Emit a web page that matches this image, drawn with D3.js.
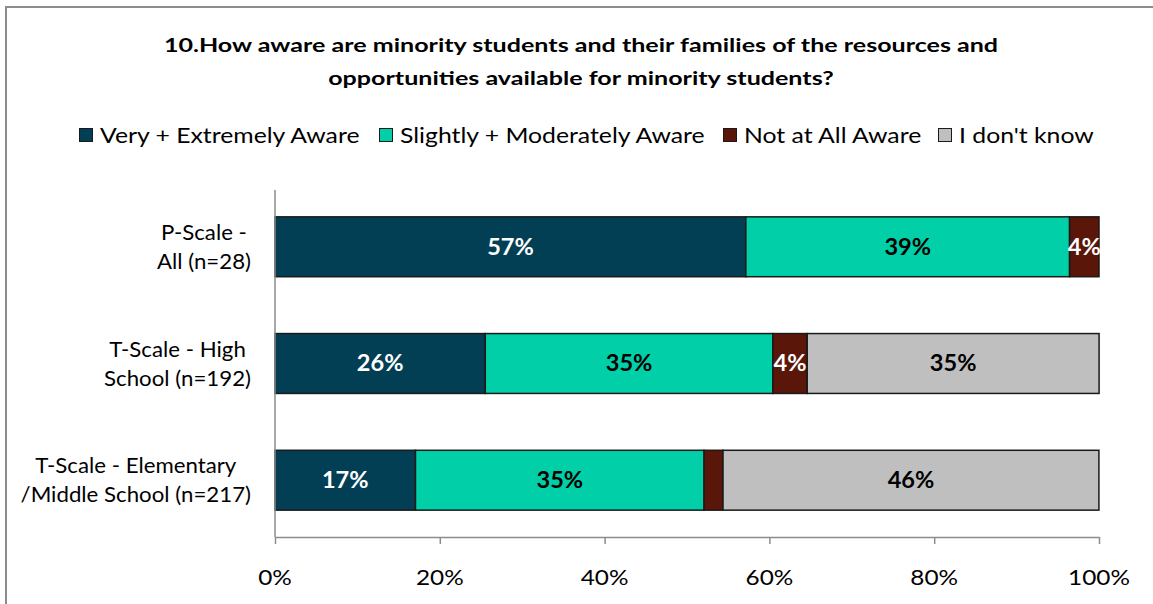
<!DOCTYPE html>
<html>
<head>
<meta charset="utf-8">
<script src="https://cdn.jsdelivr.net/npm/d3@7"></script>
<style>
  html, body { margin: 0; padding: 0; background: #fff; }
  svg { display: block; font-family: Lato, "Open Sans", sans-serif; }
</style>
</head>
<body>
<svg id="chart" width="1153" height="604"></svg>
<script>
// Survey responses, share of respondents per group (percent)
const categories = [
  ["P-Scale -", "All (n=28)"],
  ["T-Scale - High", "School (n=192)"],
  ["T-Scale - Elementary", "/Middle School (n=217)"]
];
const seriesNames = ["Very + Extremely Aware", "Slightly + Moderately Aware", "Not at All Aware", "I don't know"];
const veryExtremely = [57.14, 25.52, 17.05];
const slightlyModerately = [39.29, 34.90, 35.02];
const notAtAll = [3.57, 4.17, 2.30];
const dontKnow = [0, 35.42, 45.62];
const labelsShown = [[true, true, true, false], [true, true, true, true], [true, true, false, true]];
const tickValues = [0, 20, 40, 60, 80, 100];
const colors = ["#023F55", "#00CFA7", "#5A1709", "#BFBFBF"];
const labelColors = ["#ffffff", "#000000", "#ffffff", "#000000"];

const series = [veryExtremely, slightlyModerately, notAtAll, dontKnow];
const rows = categories.map((c, i) => {
  const o = { idx: i };
  seriesNames.forEach((s, j) => o[s] = series[j][i]);
  return o;
});
const stacked = d3.stack().keys(seriesNames)(rows);

const svg = d3.select("#chart");

// text placed at (x, y) and widened horizontally by sx
function wideText(parent, x, y, sx) {
  return parent.append("g").attr("transform", `translate(${x},${y}) scale(${sx},1)`).append("text");
}

// chart frame
svg.append("path")
  .attr("d", "M6,604 V7 H1153")
  .attr("fill", "none").attr("stroke", "#8c8c8c").attr("stroke-width", 2);

// title
const titleLines = [
  "10.How aware are minority students and their families of the resources and",
  "opportunities available for minority students?"
];
titleLines.forEach((ln, k) => {
  wideText(svg, 581, 52 + k * 33, 1.32)
    .attr("text-anchor", "middle")
    .attr("font-weight", "bold").attr("font-size", 19).attr("fill", "#000")
    .text(ln);
});

const x = d3.scaleLinear().domain([0, 100]).range([275, 1099]);
const y = d3.scaleBand().domain(d3.range(categories.length)).range([190, 537])
  .paddingInner(0.487).paddingOuter(0.23);

// legend
const legendX = [79, 379, 723, 938];
seriesNames.forEach((s, j) => {
  svg.append("rect").attr("x", legendX[j] + 0.5).attr("y", 128.5).attr("width", 13).attr("height", 13)
    .attr("fill", colors[j]).attr("stroke", "#1a1a1a").attr("stroke-width", 1);
  wideText(svg, legendX[j] + 21, 143, 1.18)
    .attr("font-size", 21).attr("fill", "#000").text(s);
});

// bars
const layers = svg.append("g").selectAll("g").data(stacked).join("g")
  .attr("fill", (d, j) => colors[j]);
layers.selectAll("rect").data(d => d).join("rect")
  .attr("x", d => x(d[0]))
  .attr("y", (d, i) => y(i))
  .attr("width", d => x(d[1]) - x(d[0]))
  .attr("height", y.bandwidth())
  .attr("stroke", "#1a1a1a").attr("stroke-width", 1.5)
  .style("display", d => (d[1] - d[0]) > 0 ? null : "none");

// data labels
stacked.forEach((layer, j) => {
  layer.forEach((d, i) => {
    if (!labelsShown[i][j]) return;
    wideText(svg, (x(d[0]) + x(d[1])) / 2, y(i) + y.bandwidth() / 2, 1.07)
      .attr("dy", "0.36em")
      .attr("text-anchor", "middle")
      .attr("font-weight", "bold").attr("font-size", 22)
      .attr("fill", labelColors[j])
      .text(Math.round(d[1] - d[0]) + "%");
  });
});

// category axis labels (two-line, centred block, right edge aligned)
const catSx = 1.06;
categories.forEach((lines, i) => {
  const cy = y(i) + y.bandwidth() / 2;
  const g = svg.append("g");
  const texts = lines.map((ln, k) =>
    wideText(g, 0, cy - 7 + k * 29, catSx)
      .attr("font-size", 21).attr("fill", "#000").attr("text-anchor", "middle").text(ln));
  const w = d3.max(texts, t => t.node().getComputedTextLength()) * catSx;
  g.attr("transform", `translate(${251 - w / 2},0)`);
});

// vertical category axis line
svg.append("line").attr("x1", 275).attr("x2", 275).attr("y1", 190).attr("y2", 537)
  .attr("stroke", "#8c8c8c").attr("stroke-width", 1.5);

// bottom value axis
const xAxis = svg.append("g").attr("transform", "translate(0,537)")
  .call(d3.axisBottom(x).tickValues(tickValues).tickSize(7).tickSizeOuter(0).tickFormat(""));
xAxis.select(".domain").attr("stroke", "#8c8c8c").attr("stroke-width", 1.5);
xAxis.selectAll(".tick line").attr("stroke", "#8c8c8c").attr("stroke-width", 1.5);
tickValues.forEach(v => {
  wideText(svg, x(v), 585, 1.16)
    .attr("font-size", 21).attr("fill", "#000").attr("text-anchor", "middle").text(v + "%");
});
</script>
</body>
</html>
